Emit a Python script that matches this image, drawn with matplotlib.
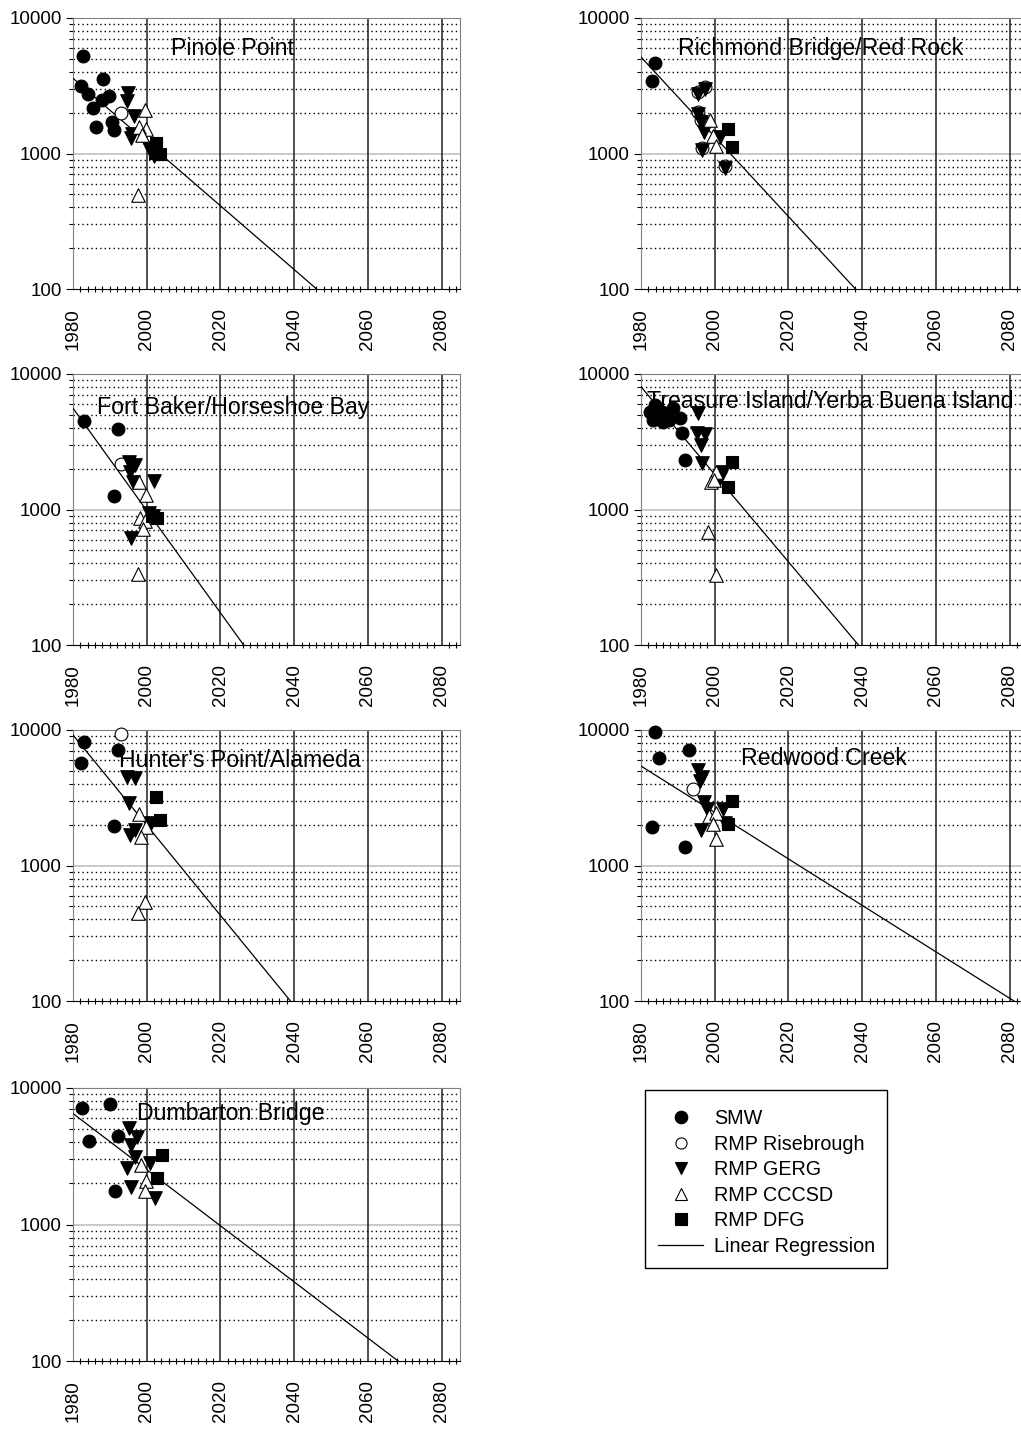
import numpy as np
import matplotlib
matplotlib.use("Agg")
import matplotlib.pyplot as plt
from matplotlib.lines import Line2D
from matplotlib.patches import Rectangle

plt.rcParams["font.family"] = ["Liberation Sans", "DejaVu Sans"]

# series values: {series: (years, concentrations)}
pinole = {
    "SMW": ([1982.8, 1982.1, 1988.1, 1984.2, 1985.3, 1987.8, 1989.9, 1986.2, 1990.5, 1991.2],
            [5250, 3150, 3530, 2740, 2160, 2480, 2650, 1560, 1720, 1490]),
    "RMP Risebrough": ([1993.1], [2000]),
    "RMP GERG": ([1994.9, 1994.6, 1996.6, 1995.8, 1996.0, 2000.5, 2001.0, 2002.1],
                 [2810, 2450, 1890, 1295, 1400, 1092, 1060, 960]),
    "RMP CCCSD": ([1999.6, 1999.9, 1998.0, 1998.7, 1997.6], [2090, 1525, 1560, 1370, 494]),
    "RMP DFG": ([2002.6, 2003.7, 2002.3], [1190, 990, 1010]),
}
richmond = {
    "SMW": ([1983.8, 1982.9], [4680, 3430]),
    "RMP Risebrough": ([1997.4, 1995.6, 1995.6, 1996.2, 1996.5, 2002.9],
                       [3110, 2860, 2030, 1766, 1090, 810]),
    "RMP GERG": ([1997.4, 1995.6, 1995.6, 1996.2, 1997.1, 1996.5, 2001.5, 2002.9],
                 [3000, 2760, 1950, 1700, 1450, 1060, 1330, 780]),
    "RMP CCCSD": ([1998.8, 1999.5, 2000.4], [1766, 1345, 1135]),
    "RMP DFG": ([2003.6, 2004.7], [1510, 1110]),
}
fort_baker = {
    "SMW": ([1983.0, 1992.1, 1991.2], [4500, 3910, 1260]),
    "RMP Risebrough": ([1993.1], [2170]),
    "RMP GERG": ([1995.1, 1996.9, 1995.5, 1996.2, 2001.9, 1995.8, 2000.5, 2001.7],
                 [2250, 2130, 1900, 1600, 1620, 612, 937, 900]),
    "RMP CCCSD": ([1998.0, 1999.9, 1998.2, 1999.6, 1999.0, 1997.5], [1600, 1280, 860, 822, 718, 334]),
    "RMP DFG": ([2002.9, 2001.5], [860, 900]),
}
treasure = {
    "SMW": ([1982.4, 1983.8, 1985.6, 1983.3, 1986.1, 1988.8, 1990.6, 1991.1, 1992.0, 1987.5],
            [5270, 5900, 5270, 4570, 4450, 5590, 4710, 3650, 2320, 4600]),
    "RMP GERG": ([1995.6, 1995.2, 1997.4, 1996.2, 1996.5, 2002.2, 2001.5],
                 [5130, 3650, 3590, 2990, 2190, 1900, 1700]),
    "RMP CCCSD": ([2000.4, 1999.0, 1999.7, 1998.3, 2000.4], [1900, 1600, 1640, 686, 329]),
    "RMP DFG": ([2004.7, 2003.6], [2250, 1470]),
}
hunters = {
    "SMW": ([1983.0, 1982.1, 1992.1, 1991.2], [8200, 5740, 7110, 1960]),
    "RMP Risebrough": ([1993.1], [9340]),
    "RMP GERG": ([1994.6, 1996.9, 1995.2, 1995.5, 1996.9, 2001.1], [4520, 4400, 2880, 1680, 1830, 2050]),
    "RMP CCCSD": ([1998.0, 1999.9, 1998.5, 1999.6, 1997.6], [2390, 1915, 1630, 541, 449]),
    "RMP DFG": ([2002.6, 2003.7], [3220, 2170]),
}
redwood = {
    "SMW": ([1983.8, 1984.9, 1992.9, 1982.9, 1992.0], [9620, 6180, 7110, 1915, 1377]),
    "RMP Risebrough": ([1994.0], [3670]),
    "RMP GERG": ([1995.6, 1996.5, 1995.9, 1997.0, 1998.0, 2002.2, 1996.2, 2002.9],
                 [5070, 4520, 4200, 2950, 2590, 2590, 1830, 2050]),
    "RMP CCCSD": ([1998.5, 2000.4, 1999.5, 2000.3], [2320, 2450, 2020, 1570]),
    "RMP DFG": ([2004.7, 2003.6], [2990, 2020]),
}
dumbarton = {
    "SMW": ([1982.4, 1990.1, 1984.4, 1992.3, 1991.4], [7100, 7600, 4110, 4480, 1760]),
    "RMP GERG": ([1995.1, 1997.3, 1995.8, 1996.9, 1994.6, 2001.0, 1995.8, 2002.3],
                 [5120, 4400, 3820, 3140, 2580, 2800, 1890, 1570]),
    "RMP CCCSD": ([1998.4, 1999.9, 1999.6], [2730, 2080, 1760]),
    "RMP DFG": ([2004.1, 2002.9], [3230, 2180]),
}

titles = ["Pinole Point", "Richmond Bridge/Red Rock", "Fort Baker/Horseshoe Bay",
          "Treasure Island/Yerba Buena Island", "Hunter's Point/Alameda",
          "Redwood Creek", "Dumbarton Bridge"]
stations = [pinole, richmond, fort_baker, treasure, hunters, redwood, dumbarton]
# regression line: value at 1980 and year where it reaches 100
fit_start = [3590, 5150, 5590, 8050, 9180, 5420, 6500]
fit_year100 = [2046.1, 2038.2, 2026.3, 2039.0, 2039.0, 2081.2, 2068.2]

styles = {
    "SMW": dict(marker="o", facecolor="black", s=85),
    "RMP Risebrough": dict(marker="o", facecolor="white", s=85),
    "RMP GERG": dict(marker="v", facecolor="black", s=95),
    "RMP CCCSD": dict(marker="^", facecolor="white", s=95),
    "RMP DFG": dict(marker="s", facecolor="black", s=70),
}

W, H = 1021, 1432
fig = plt.figure(figsize=(W / 100, H / 100), dpi=100)

# panel boxes in pixels: left, top, bottom
col_left = [73, 641]
rows = [(18, 289), (374, 645), (730, 1001), (1088, 1361)]
ax_w = 387
title_pos = [(0.413, 0.889), (0.463, 0.889), (0.413, 0.878), (0.490, 0.900),
             (0.432, 0.886), (0.473, 0.893), (0.408, 0.908)]

for i, (data, title) in enumerate(zip(stations, titles)):
    r, c = divmod(i, 2)
    top, bot = rows[r]
    left = col_left[c]
    ax = fig.add_axes([left / W, 1 - bot / H, ax_w / W, (bot - top) / H])
    ax.set_yscale("log")
    ax.set_xlim(1980, 2085)
    ax.set_ylim(100, 10000)

    # grid
    for yy in list(range(200, 1000, 100)) + list(range(2000, 10000, 1000)):
        ax.axhline(yy, color="black", lw=1.0, ls=(0, (1, 2.2)), zorder=1)
    ax.axhline(1000, color="#c0c0c0", lw=1.2, zorder=1)
    for xx in range(2000, 2085, 20):
        ax.axvline(xx, color="#202020", lw=1.1, zorder=1)

    ax.text(title_pos[i][0], title_pos[i][1], title, transform=ax.transAxes,
            ha="center", va="center", fontsize=16.7, zorder=2)

    xf = np.array([1980, 2085])
    slope = (2 - np.log10(fit_start[i])) / (fit_year100[i] - 1980)
    ax.plot(xf, 10 ** (np.log10(fit_start[i]) + slope * (xf - 1980)),
            color="black", lw=0.9, zorder=3)

    for name, (xs, ys) in data.items():
        st = styles[name]
        ax.scatter(xs, ys, marker=st["marker"], s=st["s"], facecolor=st["facecolor"],
                   edgecolor="black", linewidths=0.8, zorder=4, clip_on=False)

    ax.set_xticks(range(1980, 2085, 20))
    ax.set_xticks(range(1980, 2086, 2), minor=True)
    ax.set_xticklabels([str(v) for v in range(1980, 2085, 20)], rotation=90, fontsize=13.5)
    ax.set_yticks([100, 1000, 10000])
    ax.set_yticklabels(["100", "1000", "10000"], fontsize=13.5)
    ax.tick_params(axis="x", which="major", length=0, pad=14)
    ax.tick_params(axis="x", which="minor", direction="inout", length=5, width=0.8)
    ax.tick_params(axis="y", which="major", direction="out", length=5, width=0.8, pad=3)
    ax.tick_params(axis="y", which="minor", direction="out", length=3, width=0.8, labelleft=False)
    for sp in ["left", "top", "right"]:
        ax.spines[sp].set_color("#808080")
    ax.spines["bottom"].set_color("black")

handles = []
leg_sizes = [9.0, 8.0, 8.5, 8.5, 8.5]
for (name, st), ms in zip(styles.items(), leg_sizes):
    handles.append(Line2D([], [], ls="none", marker=st["marker"], markersize=ms,
                          markerfacecolor=st["facecolor"], markeredgecolor="black",
                          markeredgewidth=0.8, label=name))
handles.append(Line2D([], [], color="black", lw=0.9, label="Linear Regression"))

fig.legend(handles=handles, loc="upper left", bbox_to_anchor=(658 / W, 1 - 1109 / H),
           frameon=False, fontsize=14.2, handlelength=2.3, handletextpad=0.55,
           labelspacing=0.33, borderpad=0, borderaxespad=0)
fig.patches.append(Rectangle((645 / W, 1 - 1268 / H), 242 / W, 178 / H,
                             transform=fig.transFigure, fill=False,
                             edgecolor="black", lw=1.0))

fig.savefig("out.png", dpi=100, facecolor="white")
